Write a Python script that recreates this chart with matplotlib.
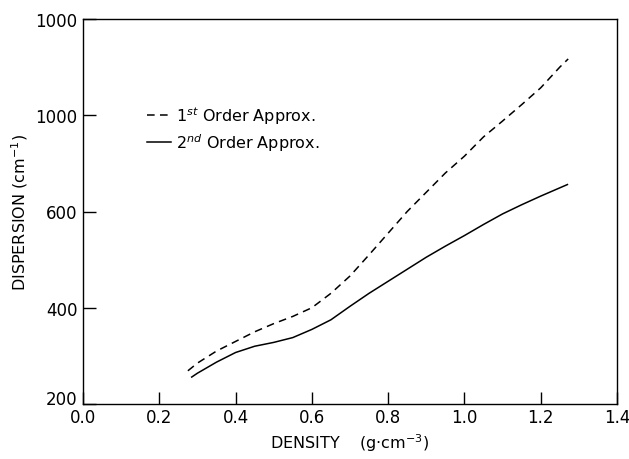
import matplotlib
matplotlib.use("Agg")
import matplotlib.pyplot as plt
import matplotlib.transforms as mtransforms

# density (g/cm^3) and dispersion (cm^-1)
density_1st = [0.275, 0.30, 0.35, 0.40, 0.45, 0.50, 0.55, 0.60, 0.65, 0.70, 0.75,
               0.80, 0.85, 0.90, 0.95, 1.00, 1.05, 1.10, 1.15, 1.20, 1.25, 1.272]
disp_1st = [269, 285, 310, 330, 350, 367, 382, 400, 430, 466, 510,
            555, 600, 640, 680, 715, 755, 788, 822, 857, 900, 917]

density_2nd = [0.285, 0.30, 0.35, 0.40, 0.45, 0.50, 0.55, 0.60, 0.65, 0.70, 0.75,
               0.80, 0.85, 0.90, 0.95, 1.00, 1.05, 1.10, 1.15, 1.20, 1.27]
disp_2nd = [256, 264, 287, 307, 320, 328, 338, 355, 375, 403, 430,
            455, 480, 505, 528, 550, 573, 595, 614, 632, 656]

x_ticks = [0.0, 0.2, 0.4, 0.6, 0.8, 1.0, 1.2, 1.4]
x_labels = ["0.0", "0.2", "0.4", "0.6", "0.8", "1.0", "1.2", "1.4"]
y_ticks = [200, 400, 600, 800, 1000]
y_labels = ["200", "400", "600", "1000", "1000"]  # as printed in the original

plt.rcParams['font.family'] = ['DejaVu Sans']

fig = plt.figure(figsize=(6.29, 4.6), dpi=100)
fig.subplots_adjust(left=83/629, right=617/629, bottom=1-405/460, top=1-20/460)
ax = fig.add_subplot(111)

ax.plot(density_1st, disp_1st, color='black', lw=1.1, dashes=(5, 3.5),
        label='1$^{st}$ Order Approx.')
ax.plot(density_2nd, disp_2nd, color='black', lw=1.1,
        label='2$^{nd}$ Order Approx.')

ax.set_xlim(0.0, 1.4)
ax.set_ylim(200, 1000)
ax.set_xticks(x_ticks)
ax.set_xticklabels(x_labels)
ax.set_yticks(y_ticks)
ax.set_yticklabels(y_labels)
ax.tick_params(direction='in', length=9, width=1, labelsize=12, colors='black')
ax.tick_params(axis='x', pad=3)
ax.tick_params(axis='y', pad=4)

# nudge the corner "200" up a touch so it doesn't collide with "0.0"
lbl = ax.get_yticklabels()[0]
lbl.set_transform(lbl.get_transform() +
                  mtransforms.ScaledTranslation(0, 5/72, fig.dpi_scale_trans))

for s in ax.spines.values():
    s.set_linewidth(1.0)

ax.set_xlabel('DENSITY    (g$\\cdot$cm$^{-3}$)', fontsize=11.5, labelpad=4)
ax.set_ylabel('DISPERSION (cm$^{-1}$)', fontsize=11.5, labelpad=4)

ax.legend(loc='upper left', bbox_to_anchor=(0.105, 0.8), frameon=False,
          handlelength=1.5, handletextpad=0.3, labelspacing=0.35,
          borderpad=0, fontsize=11.5)

plt.savefig("out.png", dpi=100)
